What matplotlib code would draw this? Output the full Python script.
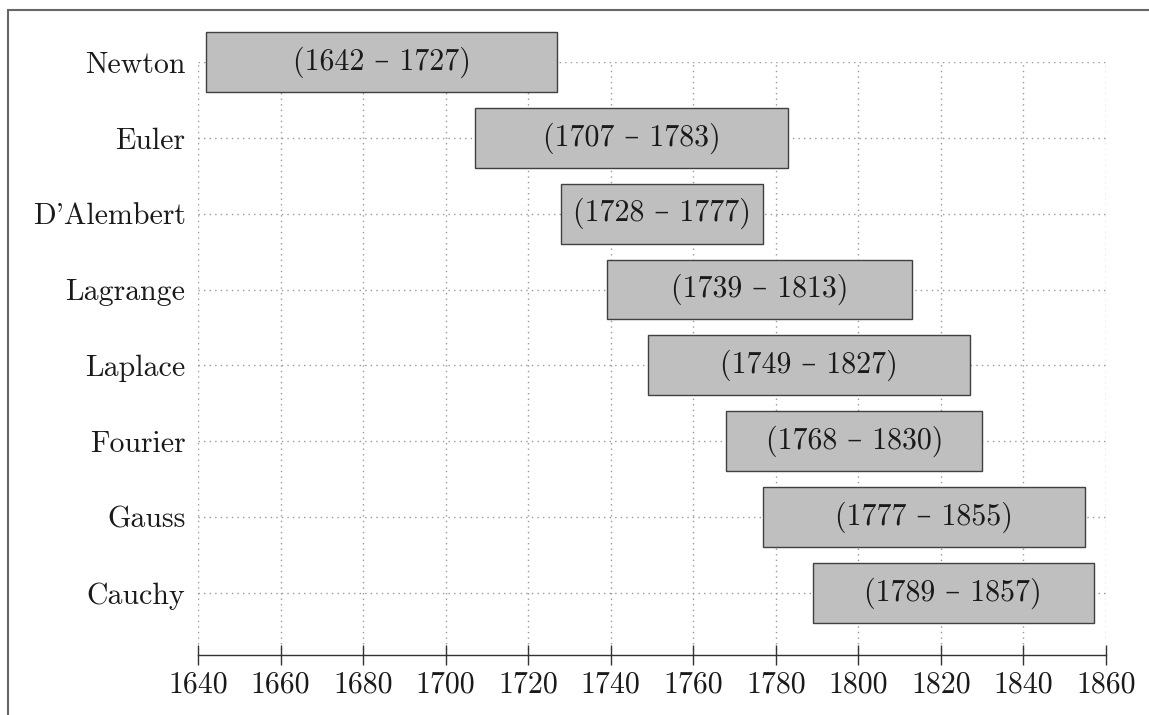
import matplotlib
matplotlib.use("Agg")
import matplotlib.pyplot as plt
from matplotlib.patches import Rectangle

# data
names = ["Newton", "Euler", "D'Alembert", "Lagrange", "Laplace", "Fourier", "Gauss", "Cauchy"]
born = [1642, 1707, 1728, 1739, 1749, 1768, 1777, 1789]
died = [1727, 1783, 1777, 1813, 1827, 1830, 1855, 1857]
xticks = [1640, 1660, 1680, 1700, 1720, 1740, 1760, 1780, 1800, 1820, 1840, 1860]

plt.rcParams['font.family'] = ['cmr10', 'DejaVu Serif']
plt.rcParams['axes.unicode_minus'] = False
plt.rcParams['axes.formatter.use_mathtext'] = True

fig = plt.figure(figsize=(11.49, 7.15), dpi=100)
ax = fig.add_axes([198/1149, 1 - 655/715, 908/1149, 593/715])

n = len(names)
ypos = [n - 1 - i for i in range(n)]
widths = [d - b for b, d in zip(born, died)]

bars = ax.barh(ypos, widths, left=born, height=0.79, color="#bfbfbf",
               edgecolor="#404040", linewidth=1.0, zorder=3)
for b in bars:
    b.set_clip_on(False)
for y, b, d in zip(ypos, born, died):
    ax.text((b + d) / 2, y, "(%d \u2013 %d)" % (b, d), ha="center", va="center",
            fontsize=21.5, color="#1a1a1a", zorder=4, clip_on=False)

ax.set_xlim(1640, 1860)
ax.set_ylim(-62/75.7, n - 1)
ax.set_xticks(xticks)
ax.set_xticklabels([str(t) for t in xticks])
ax.set_yticks(ypos)
ax.set_yticklabels(names)

for s in ["top", "left", "right"]:
    ax.spines[s].set_visible(False)
ax.spines["bottom"].set_color("#333333")
ax.spines["bottom"].set_linewidth(1.0)

ax.tick_params(axis="x", direction="inout", length=15, width=1.0, color="#333333",
               labelsize=21.5, pad=4, labelcolor="#1a1a1a")
ax.tick_params(axis="y", length=0, pad=9, labelsize=21.5, labelcolor="#1a1a1a")

ax.grid(True, linestyle=(0, (1, 3)), color="#999999", linewidth=1.0, zorder=0)
ax.set_axisbelow(True)

# page border (top and left visible)
fig.patches.append(Rectangle((8/1149, -0.1), 1.2, 1.1 - 10/715, transform=fig.transFigure,
                             fill=False, edgecolor="#666666", linewidth=1.5, clip_on=False))

fig.savefig("out.png", dpi=100)
